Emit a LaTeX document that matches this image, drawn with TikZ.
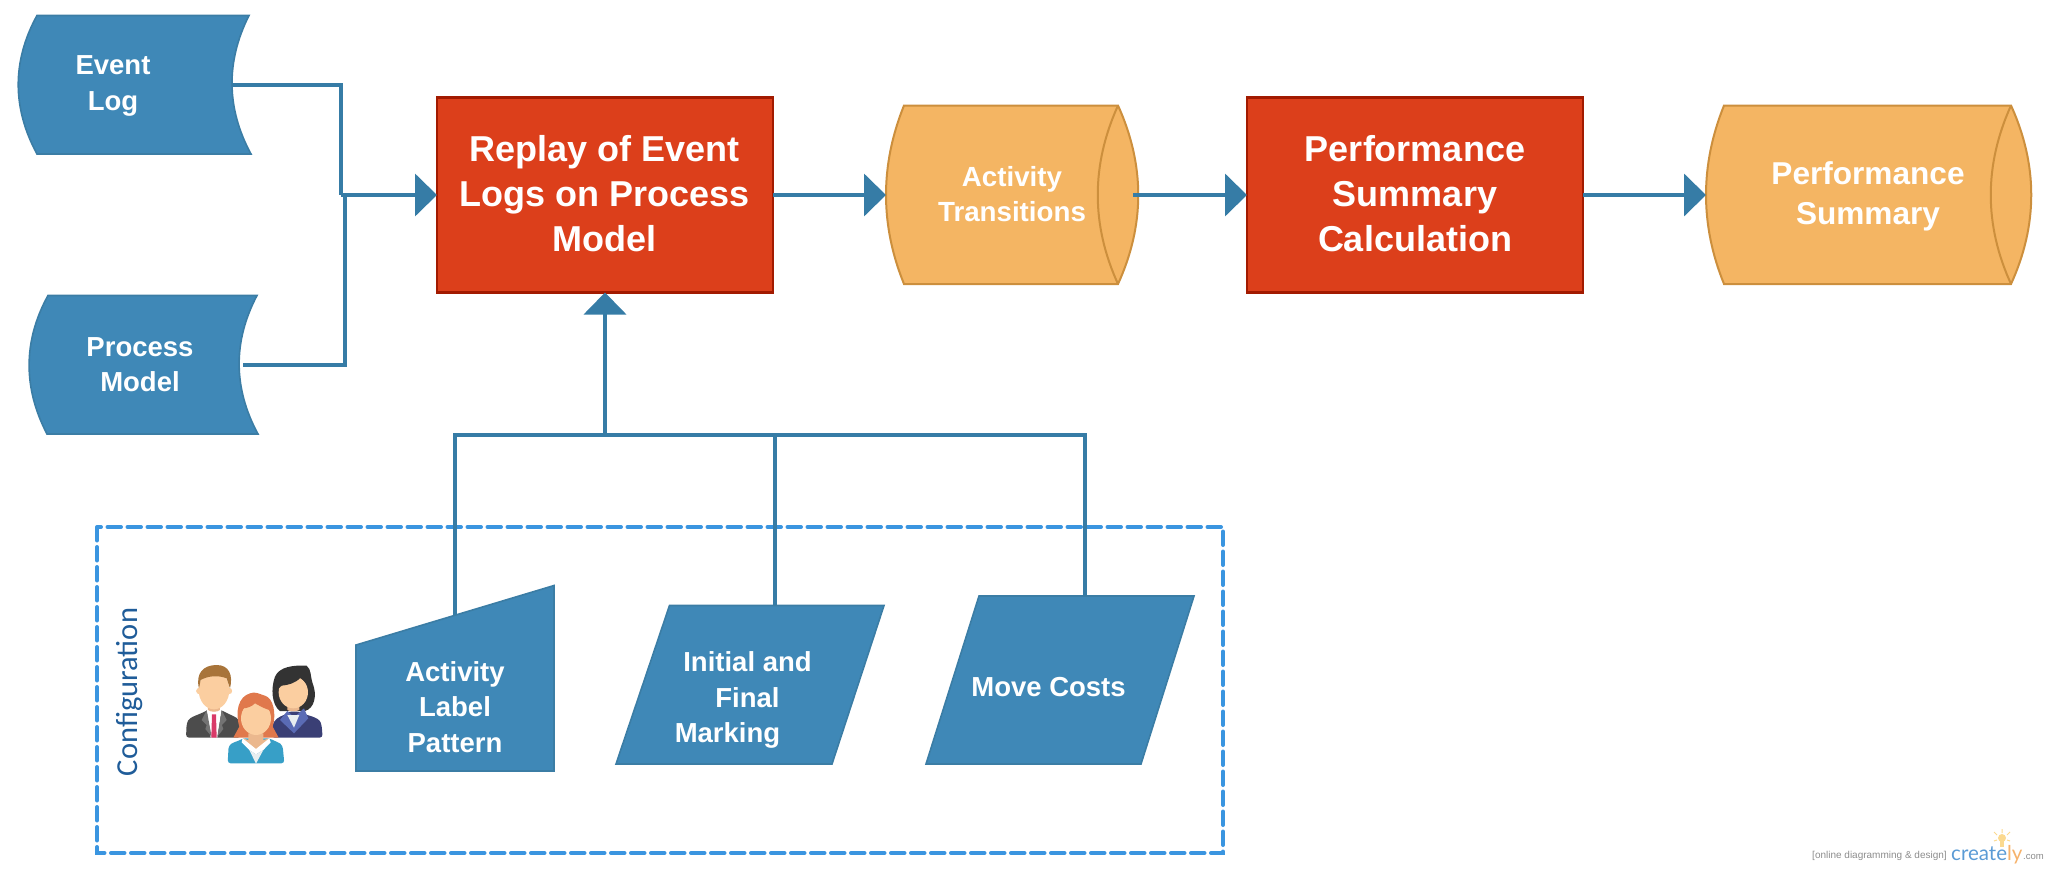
\documentclass[tikz,border=0pt]{standalone}
\usepackage{fontspec}
\setmainfont{Liberation Sans}
\newfontfamily\cfgfont{Carlito}
\newfontfamily\logofont{Lato}
\usetikzlibrary{arrows.meta}
\definecolor{bluefill}{HTML}{3F88B7}
\definecolor{blueedge}{HTML}{3B7DA5}
\definecolor{wire}{HTML}{367CA6}
\definecolor{orangefill}{HTML}{F4B563}
\definecolor{orangeedge}{HTML}{CC8F3D}
\definecolor{redfill}{HTML}{DC3F1B}
\definecolor{rededge}{HTML}{A21A00}
\definecolor{dashblue}{HTML}{3A95E0}
\definecolor{cfgblue}{HTML}{1F5C99}
\definecolor{skin}{HTML}{FBCEA0}
\definecolor{neck}{HTML}{EBB88E}
\definecolor{tiered}{HTML}{D93A68}
\definecolor{manhair}{HTML}{A8743A}
\definecolor{navy}{HTML}{3A3F75}
\definecolor{lapel}{HTML}{5A6BB5}
\definecolor{blouse}{HTML}{E8EEF0}
\definecolor{redhair}{HTML}{E0784C}
\definecolor{teal}{HTML}{379FC7}
\definecolor{bulb}{HTML}{FBD98F}
\tikzset{
  blueshape/.style={fill=bluefill,draw=blueedge,line width=1.6pt},
  orangeshape/.style={fill=orangefill,draw=orangeedge,line width=2pt},
  redbox/.style={rectangle,fill=redfill,draw=rededge,line width=2.4pt,minimum width=336pt,minimum height=195pt,inner sep=0pt,outer sep=0pt},
  redtext/.style={text=white,align=center,inner sep=0pt,font=\fontsize{36}{45}\selectfont\bfseries},
  holder/.style={rectangle,inner sep=0pt,outer sep=0pt},
  smalltext/.style={text=white,align=center,font=\fontsize{27.5}{35.3}\selectfont\bfseries,inner sep=0pt},
  orangetext/.style={text=white,align=center,inner sep=0pt},
  wireline/.style={draw=wire,line width=4pt},
  wirearrow/.style={wireline,-{Triangle[length=22pt,width=42pt]}},
  configbox/.style={draw=dashblue,line width=4pt,dash pattern=on 13.5pt off 6.5pt,line cap=round},
}
\begin{document}
\begin{tikzpicture}[x=1pt,y=-1pt]
\useasboundingbox (0,0) rectangle (2050,870);
% shape holders
\node[holder,minimum width=214pt,minimum height=139pt] (eventlog) at (125,85) {};
\node[holder,minimum width=219pt,minimum height=139pt] (procmodel) at (133.5,365) {};
\node[holder,minimum width=252pt,minimum height=179pt] (acttrans) at (1012,195) {};
\node[holder,minimum width=325pt,minimum height=179pt] (perfsum) at (1868.5,195) {};
\coordinate (acttop) at (455,615);
\coordinate (inittop) at (775,605);
\coordinate (movetop) at (1085,596);
\coordinate (evjoin) at (341,195);
\coordinate (pmjoin) at (345,195);
\coordinate (bus) at (605,435);
% configuration frame
\draw[configbox] (97,527) rectangle (1223,853);
% red boxes
\node[redbox] (replay) at (605,195) {};
\node[redbox] (calc) at (1415,195) {};
\node[redtext] (replaylabel) at (604.5,193.5) {Replay of Event\\Logs on Process\\Model};
\node[redtext] (calclabel) at (1415,193.5) {Performance\\Summary\\Calculation};
% shapes
\draw[blueshape] (37,15.5) -- (249,15.5) .. controls (226,61) and (226,108) .. (251,154) -- (37,154) .. controls (12,108) and (12,61) .. (37,15.5) -- cycle;
\draw[blueshape] (48,295.5) -- (257,295.5) .. controls (233,341) and (233,388) .. (258,434) -- (47,434) .. controls (23,388) and (23,341) .. (48,295.5) -- cycle;
\draw[orangeshape] (904,105.5) -- (1118,105.5) .. controls (1145,165) and (1145,225) .. (1118,284) -- (904,284) .. controls (880,225) and (880,165) .. (904,105.5) -- cycle;
\draw[orangeedge,line width=2pt] (1118,105.5) .. controls (1091,165) and (1091,225) .. (1118,284);
\draw[orangeshape] (1724,105.5) -- (2011,105.5) .. controls (2038,165) and (2038,225) .. (2011,284) -- (1724,284) .. controls (1700,225) and (1700,165) .. (1724,105.5) -- cycle;
\draw[orangeedge,line width=2pt] (2011,105.5) .. controls (1984,165) and (1984,225) .. (2011,284);
\draw[blueshape] (356,645) -- (554,585.5) -- (554,771) -- (356,771) -- cycle;
\draw[blueshape] (669.5,605.5) -- (884,605.5) -- (832,764) -- (616,764) -- cycle;
\draw[blueshape] (979,596) -- (1194,596) -- (1141,764) -- (926,764) -- cycle;
% connectors
\draw[wireline] (eventlog.east) -| (evjoin);
\draw[wireline] (procmodel.east) -| (pmjoin);
\draw[wirearrow] (evjoin) -- (replay.west);
\draw[wirearrow] (replay.east) -- (acttrans.west);
\draw[wirearrow] ([xshift=-5pt]acttrans.east) -- (calc.west);
\draw[wirearrow] (calc.east) -- (perfsum.west);
\draw[wirearrow] (bus) -- (replay.south);
\draw[wireline] (acttop) |- (bus);
\draw[wireline] (inittop) |- (bus);
\draw[wireline] (movetop) |- (bus);
% labels
\node[smalltext] (eventlabel) at (113,86) {Event\\Log};
\node[smalltext] (proclabel) at (140,364.5) {Process\\Model};
\node[orangetext,font=\fontsize{27.7}{35.3}\selectfont\bfseries] (translabel) at (1012,194) {Activity\\Transitions};
\node[orangetext,font=\fontsize{31.6}{40}\selectfont\bfseries] (perflabel) at (1868,196) {Performance\\Summary};
\node[smalltext] (actlabel) at (455,707) {Activity\\Label\\Pattern};
\node[smalltext] (initlabel) at (747.5,700) {Initial and\\Final\hspace*{20pt}\\Marking\hspace*{40pt}};
\node[smalltext] (movelabel) at (1048.5,687) {Move Costs};
\node[rotate=90,text=cfgblue,inner sep=0pt,font=\cfgfont\fontsize{30.5}{36}\selectfont] (cfglabel) at (130,692) {Configuration};
% people icon
\begin{scope}[shift={(180,655)},x=0.3333pt,y=-0.3333pt]
  % man
  \fill[black!70,rounded corners=3pt] (18,248) -- (20,205) .. controls (30,185) and (60,178) .. (82,165) -- (125,165) .. controls (145,178) and (172,185) .. (182,205) -- (182,248) -- cycle;
  \fill[white] (80,165) -- (125,165) -- (112,248) -- (92,248) -- cycle;
  \fill[black!55] (80,165) -- (65,195) -- (80,210) -- (76,222) -- (95,245) -- cycle;
  \fill[black!55] (125,165) -- (140,195) -- (126,210) -- (130,222) -- (112,245) -- cycle;
  \fill[tiered] (96,178) -- (108,178) -- (110,248) -- (94,248) -- cycle;
  \fill[neck] (84,150) -- (120,150) -- (120,165) .. controls (110,172) and (94,172) .. (84,165) -- cycle;
  \fill[skin] (58,108) circle[radius=3.2pt];
  \fill[skin] (147,108) circle[radius=3.2pt];
  \fill[skin] (102,105) circle[x radius=46,y radius=58];
  \fill[manhair] (57,100) .. controls (46,55) and (70,30) .. (110,30) .. controls (147,30) and (160,60) .. (150,100) -- (140,70) .. controls (115,60) and (85,62) .. (62,75) -- cycle;
  % woman right
  \fill[black!80] (300,168) .. controls (275,150) and (272,100) .. (285,65) .. controls (298,35) and (340,30) .. (380,32) .. controls (395,45) and (390,60) .. (398,85) .. controls (412,120) and (404,160) .. (375,168) -- cycle;
  \fill[navy,rounded corners=3pt] (275,248) -- (277,210) .. controls (290,185) and (315,180) .. (325,170) -- (360,170) .. controls (375,180) and (415,185) .. (425,210) -- (428,248) -- cycle;
  \fill[lapel] (322,168) -- (300,195) -- (342,235) -- (385,190) -- (372,160) -- (350,180) -- (335,180) -- cycle;
  \fill[blouse] (322,180) -- (358,180) -- (342,218) -- cycle;
  \fill[neck] (322,150) -- (358,150) -- (358,165) .. controls (350,170) and (330,170) .. (322,165) -- cycle;
  \fill[skin] (340,112) circle[x radius=44,y radius=48];
  \fill[black!80] (296,100) -- (296,60) -- (340,40) -- (386,50) -- (386,90) -- (362,68) .. controls (345,85) and (325,90) .. (305,92) -- cycle;
  % woman front
  \fill[redhair] (178,215) .. controls (165,170) and (175,125) .. (210,115) .. controls (225,108) and (240,118) .. (255,122) .. controls (280,130) and (290,175) .. (278,215) -- (296,248) -- (160,248) -- cycle;
  \fill[teal,rounded corners=3pt] (143,325) -- (146,272) .. controls (160,262) and (175,258) .. (188,250) -- (268,250) .. controls (285,258) and (300,265) .. (308,272) -- (313,325) -- cycle;
  \fill[neck] (205,235) -- (250,235) -- (250,255) -- (268,250) -- (228,290) -- (188,250) -- (205,255) -- cycle;
  \fill[white] (188,250) -- (185,262) -- (208,285) -- (228,298) -- (250,285) -- (272,262) -- (268,250) -- (228,282) -- cycle;
  \fill[blouse] (208,285) -- (228,298) -- (250,285) -- (228,326) -- cycle;
  \fill[skin] (228,190) circle[x radius=45,y radius=50];
  \fill[redhair] (182,175) .. controls (185,150) and (205,130) .. (228,125) .. controls (250,130) and (272,150) .. (276,180) -- (268,165) .. controls (250,160) and (235,150) .. (225,145) .. controls (215,155) and (200,160) .. (190,160) -- cycle;
\end{scope}
% watermark
\node[anchor=base west,inner sep=0pt,text=black!45,font=\fontsize{10}{11}\selectfont] (wmtext) at (1812,858.5) {[online diagramming \& design]};
\node[anchor=base west,inner sep=0pt,font=\logofont\fontsize{20.5}{24}\selectfont] (wmlogo) at (1951,860) {\textcolor[HTML]{5B9BD5}{create}\textcolor[HTML]{F6B26B}{ly}};
\node[anchor=base west,inner sep=0pt,text=black!45,font=\fontsize{9.5}{11}\selectfont] (wmcom) at (2023,859) {.com};
\fill[bulb] (2002,838) circle[radius=4];
\fill[bulb] (2000,841) rectangle (2004,847);
\draw[bulb,line width=1pt] (1994,832) -- (1997,835) (2002,829) -- (2002,833) (2010,832) -- (2007,835) (1994,841) -- (1997,840) (2010,841) -- (2007,840);
\end{tikzpicture}
\end{document}
